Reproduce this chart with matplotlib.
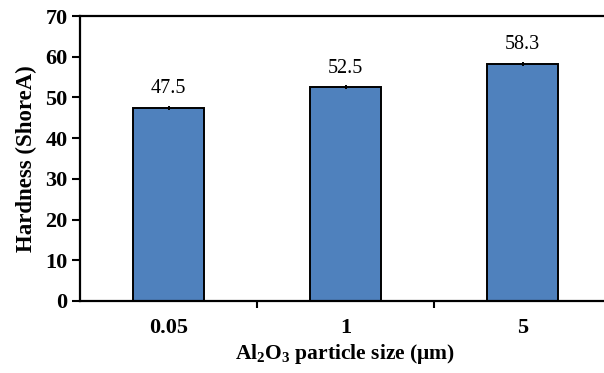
import matplotlib
matplotlib.use("Agg")
import matplotlib.pyplot as plt
import numpy as np

categories = ["0.05", "1", "5"]
hardness = [47.5, 52.5, 58.3]
errors = [0.5, 0.5, 0.5]
value_labels = ["47.5", "52.5", "58.3"]
yticks = [0, 10, 20, 30, 40, 50, 60, 70]

plt.rcParams['font.family'] = ['Liberation Serif', 'DejaVu Serif']
plt.rcParams['mathtext.fontset'] = 'custom'
plt.rcParams['mathtext.rm'] = 'Liberation Serif:bold'
plt.rcParams['mathtext.default'] = 'rm'

W, H = 604, 373
fig = plt.figure(figsize=(W/100, H/100), dpi=100)
left, right, top, bottom = 80, 611, 16, 301
ax = fig.add_axes([left/W, 1-bottom/H, (right-left)/W, (bottom-top)/H])

x = np.arange(len(categories))
ax.bar(x, hardness, width=0.40, color='#4F81BD', edgecolor='black', linewidth=1.4,
       yerr=errors, error_kw=dict(ecolor='black', elinewidth=1.4, capsize=0), zorder=2)
for xi, v, lab in zip(x, hardness, value_labels):
    ax.text(xi, v + 2.3, lab, ha='center', va='bottom', fontsize=14.5)

ax.set_xlim(-0.5, 2.5)
ax.set_ylim(0, 70)
ax.set_yticks(yticks)
ax.set_yticklabels([str(t) for t in yticks], fontsize=16, fontweight='bold')
ax.set_xticks(x)
ax.set_xticklabels(categories, fontsize=16, fontweight='bold')
ax.tick_params(axis='x', which='major', length=0, pad=12)
ax.set_xticks([0.5, 1.5], minor=True)
ax.tick_params(axis='x', which='minor', length=5, width=1.5, direction='out')
ax.tick_params(axis='y', length=6, width=1.5, direction='out', pad=3)

for s in ['left', 'bottom', 'top']:
    ax.spines[s].set_linewidth(1.6)
ax.spines['right'].set_visible(False)

ax.set_ylabel('Hardness (ShoreA)', fontsize=16.5, fontweight='bold', labelpad=6)
ax.set_xlabel('Al$_{2}$O$_{3}$ particle size (μm)', fontsize=15.5, fontweight='bold', labelpad=3)

fig.savefig('out.png', dpi=100)
